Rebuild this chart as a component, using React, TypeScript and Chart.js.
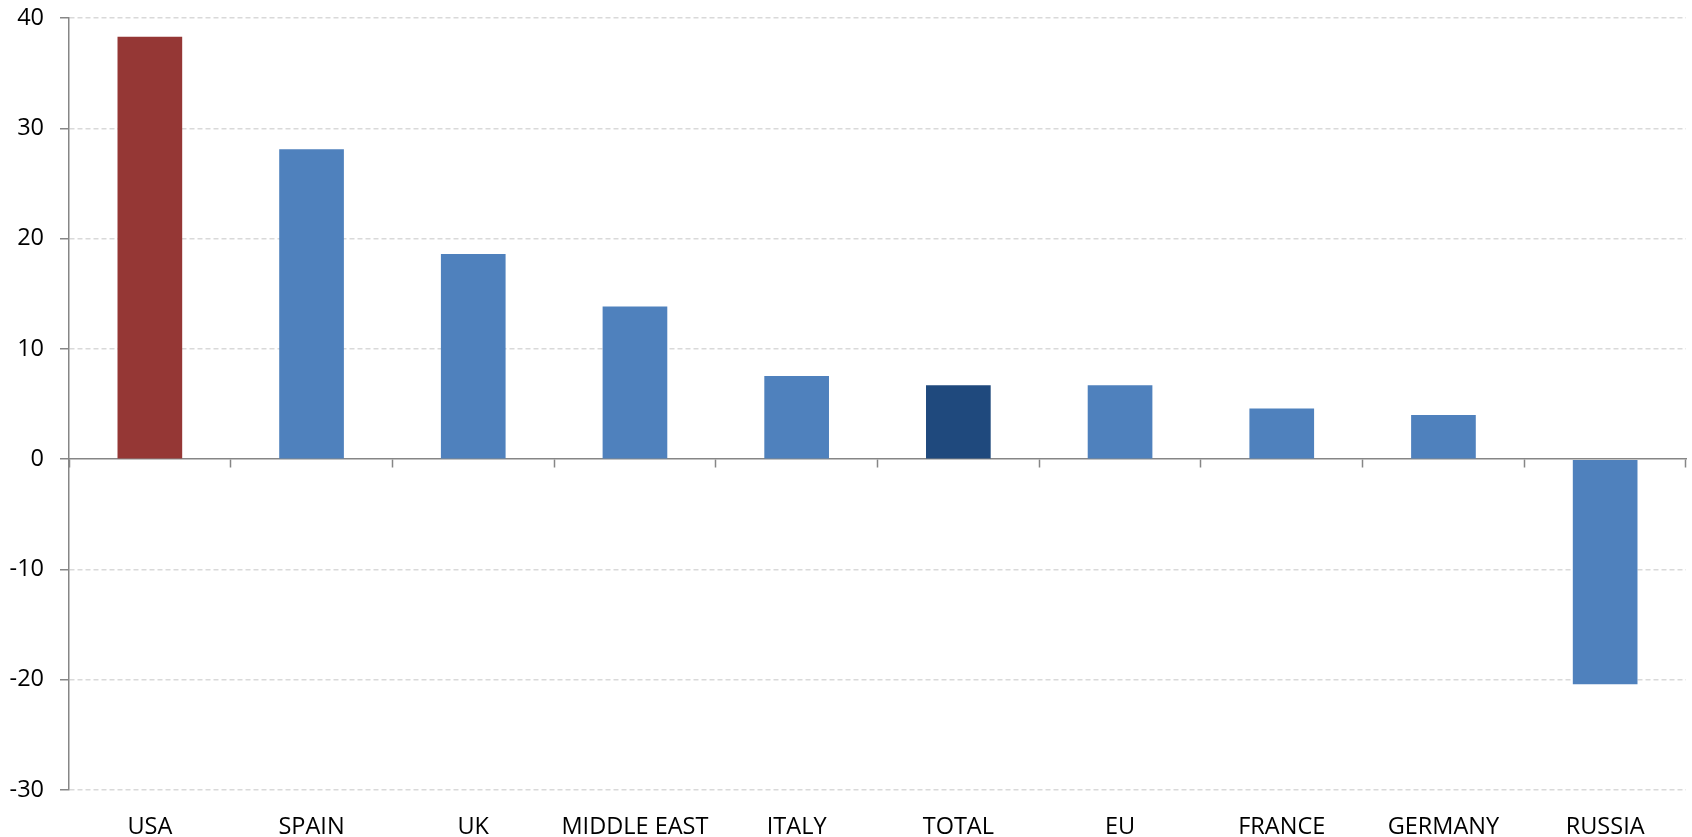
import React, { useEffect, useRef } from "react";
import { Chart, registerables } from "chart.js";

Chart.register(...registerables);

const categories = ["USA", "SPAIN", "UK", "MIDDLE EAST", "ITALY", "TOTAL", "EU", "FRANCE", "GERMANY", "RUSSIA"];
const values = [38.3, 28.1, 18.6, 13.85, 7.55, 6.7, 6.7, 4.6, 4.0, -20.4];
const barColors = ["#953735", "#4F81BD", "#4F81BD", "#4F81BD", "#4F81BD", "#1F497D", "#4F81BD", "#4F81BD", "#4F81BD", "#4F81BD"];
const yMin = -30;
const yMax = 40;
const yStep = 10;

const zeroPad = (s: any) => {
  s.paddingTop = 0;
  s.paddingBottom = 0;
  s.paddingLeft = 0;
  s.paddingRight = 0;
};

export default function App() {
  const ref = useRef<HTMLCanvasElement | null>(null);

  useEffect(() => {
    if (!ref.current) return;
    const font = { family: "'Open Sans', 'Liberation Sans', sans-serif", size: 23.5 };
    const chart = new Chart(ref.current, {
      type: "bar",
      data: {
        labels: categories,
        datasets: [
          {
            data: values,
            backgroundColor: barColors,
            borderWidth: 0,
            barPercentage: 0.4,
            categoryPercentage: 1,
            xAxisID: "x",
          },
        ],
      },
      options: {
        animation: false,
        responsive: false,
        maintainAspectRatio: false,
        layout: { padding: { top: 18, right: 6, left: 0, bottom: 0 } },
        plugins: { legend: { display: false }, tooltip: { enabled: false } },
        scales: {
          x: {
            type: "category",
            position: "bottom",
            offset: true,
            grid: { display: false, drawTicks: false },
            border: { display: false },
            ticks: { color: "#000", font, padding: 23, maxRotation: 0, autoSkip: false },
            afterFit: (s: any) => {
              s.height = 47;
              zeroPad(s);
            },
          },
          x2: {
            type: "category",
            labels: categories,
            position: { y: 0 },
            offset: true,
            grid: {
              display: true,
              offset: true,
              drawOnChartArea: false,
              drawTicks: true,
              tickLength: 8,
              tickColor: "#868686",
              tickWidth: 1.5,
            },
            border: { display: true, color: "#868686", width: 1.5 },
            ticks: { display: false },
            afterFit: (s: any) => {
              zeroPad(s);
            },
          },
          y: {
            min: yMin,
            max: yMax,
            ticks: { stepSize: yStep, color: "#000", font, padding: 16 },
            grid: {
              color: (ctx: any) => (ctx.tick && ctx.tick.value === 0 ? "rgba(0,0,0,0)" : "#d9d9d9"),
              lineWidth: 1.5,
              drawTicks: true,
              tickLength: 9,
              tickColor: "#868686",
              tickWidth: 1.5,
              tickBorderDash: [],
            },
            border: { display: true, color: "#868686", width: 1.5, dash: [5, 3] },
            afterFit: (s: any) => {
              s.width = 69;
              zeroPad(s);
            },
          },
        },
      } as any,
    });
    return () => chart.destroy();
  }, []);

  return (
    <div style={{ position: "fixed", left: 0, top: 0, width: 1692, height: 837, background: "#fff" }}>
      <canvas ref={ref} width={1692} height={837} style={{ width: 1692, height: 837, display: "block" }} />
    </div>
  );
}
